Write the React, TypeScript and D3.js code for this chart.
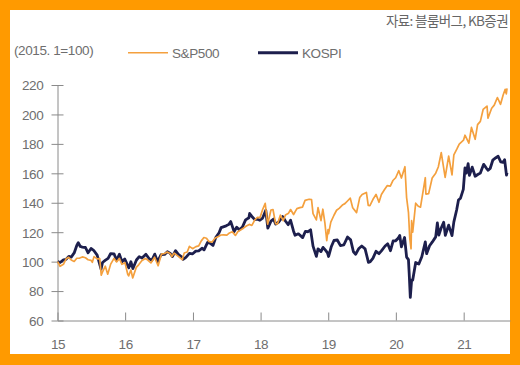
import React, { useEffect, useRef } from "react";
import * as d3 from "d3";

const spDates = [
  "2015-01-02","2015-01-15","2015-02-02","2015-02-17","2015-03-02","2015-03-16","2015-04-01","2015-04-15","2015-05-01","2015-05-15","2015-06-01","2015-06-15","2015-07-01","2015-07-08","2015-07-17","2015-08-03","2015-08-17","2015-08-25","2015-09-01","2015-09-16","2015-09-29","2015-10-15","2015-11-02","2015-11-16","2015-12-01","2015-12-14","2015-12-31",
  "2016-01-15","2016-01-20","2016-02-01","2016-02-11","2016-03-01","2016-03-15","2016-04-01","2016-04-20","2016-05-02","2016-05-19","2016-06-08","2016-06-27","2016-07-15","2016-08-01","2016-08-15","2016-09-01","2016-09-09","2016-09-22","2016-10-14","2016-11-04","2016-11-15","2016-12-01","2016-12-13","2016-12-30",
  "2017-01-17","2017-02-01","2017-02-15","2017-03-01","2017-03-15","2017-03-27","2017-04-13","2017-05-01","2017-05-15","2017-06-01","2017-06-15","2017-07-03","2017-07-17","2017-08-01","2017-08-18","2017-09-01","2017-09-15","2017-10-02","2017-10-16","2017-11-01","2017-11-15","2017-12-01","2017-12-15","2017-12-29",
  "2018-01-12","2018-01-26","2018-02-08","2018-02-26","2018-03-09","2018-03-23","2018-04-02","2018-04-18","2018-05-03","2018-05-15","2018-06-01","2018-06-12","2018-06-28","2018-07-16","2018-08-01","2018-08-15","2018-08-29","2018-09-20","2018-10-03","2018-10-11","2018-10-29","2018-11-07","2018-11-23","2018-12-03","2018-12-14","2018-12-24","2018-12-31",
  "2019-01-03","2019-01-15","2019-02-01","2019-02-15","2019-03-01","2019-03-21","2019-04-01","2019-04-15","2019-04-30","2019-05-13","2019-06-03","2019-06-20","2019-07-03","2019-07-26","2019-08-05","2019-08-14","2019-08-30","2019-09-16","2019-10-02","2019-10-15","2019-11-01","2019-11-15","2019-12-02","2019-12-16","2019-12-31",
  "2020-01-17","2020-01-31","2020-02-19","2020-02-28","2020-03-09","2020-03-16","2020-03-23","2020-03-26","2020-04-01","2020-04-17","2020-05-01","2020-05-13","2020-06-08","2020-06-11","2020-06-26","2020-07-15","2020-08-03","2020-08-17","2020-09-02","2020-09-23","2020-10-12","2020-10-30","2020-11-09","2020-11-25","2020-12-08","2020-12-31",
  "2021-01-08","2021-01-29","2021-02-12","2021-03-04","2021-03-17","2021-04-01","2021-04-16","2021-05-07","2021-05-12","2021-06-01","2021-06-15","2021-07-02","2021-07-19","2021-08-02","2021-08-13","2021-08-19","2021-08-23"
];
const spValues = [
  100,96.8,98.2,102,102.9,101.1,100.1,102.3,102.4,103.2,102.6,101.3,100.9,99.5,103.4,101.9,102.1,90.8,93,96.9,91.5,98.3,102.2,99.8,102.2,98.2,99.3,
  91.4,90.3,94.3,88.9,96.1,98,100.7,102.1,101.1,99.1,103,97.2,105.1,105.5,106.5,105.4,103.4,105.8,103.6,101.3,105.9,106.5,110.4,108.8,
  110.2,110.7,114.1,116.4,115.9,113.8,113.2,116,116.8,118.1,118.2,118,119.5,120.3,117.8,120.4,121.5,122.9,124.2,125.3,124.6,128.4,130,129.9,
  135.4,139.6,125.4,135.1,135.4,125.8,125.5,131.6,127.8,131.7,132.9,135.4,132,136,136.7,137,141.6,142.4,142.1,132.6,128.3,136.7,127.9,135.6,126.3,114.2,121.8,
  119,126.8,131.5,134.9,136.2,138.7,139.4,141.2,143.1,136.6,133.3,143.5,145.6,147,138.2,138,142.2,145.7,140.3,145.6,149,151.6,151.3,155.1,157,
  161.8,156.8,164.5,143.5,133.5,115.9,108.7,127.8,120,139.7,137.6,137,157,145.9,146.2,156.8,160.1,164.3,174,157.3,171.7,158.9,172.5,176.4,179.9,182.5,
  185.9,180.5,191.2,183.1,193.1,195.3,203.4,205.7,197.4,204.2,206.3,211.5,206.9,213.2,217.1,214,217.7
];

const ksDates = [
  "2015-01-02","2015-01-15","2015-02-02","2015-02-16","2015-03-03","2015-03-16","2015-04-01","2015-04-15","2015-04-23","2015-05-04","2015-05-15","2015-06-01","2015-06-15","2015-07-01","2015-07-15","2015-08-03","2015-08-24","2015-09-01","2015-09-15","2015-10-01","2015-10-15","2015-11-02","2015-11-16","2015-12-01","2015-12-15","2015-12-30",
  "2016-01-12","2016-01-21","2016-02-01","2016-02-12","2016-03-02","2016-03-17","2016-04-01","2016-04-22","2016-05-09","2016-05-24","2016-06-09","2016-06-24","2016-07-13","2016-08-01","2016-08-16","2016-09-01","2016-09-12","2016-09-29","2016-10-14","2016-11-04","2016-11-09","2016-11-24","2016-12-13","2016-12-29",
  "2017-01-16","2017-02-01","2017-02-20","2017-03-02","2017-03-21","2017-04-03","2017-04-19","2017-05-04","2017-05-22","2017-06-02","2017-06-29","2017-07-14","2017-07-24","2017-08-11","2017-08-25","2017-09-08","2017-09-25","2017-10-12","2017-10-30","2017-11-03","2017-11-15","2017-12-01","2017-12-15","2017-12-28",
  "2018-01-12","2018-01-29","2018-02-09","2018-02-26","2018-03-12","2018-03-23","2018-04-09","2018-04-30","2018-05-15","2018-05-30","2018-06-12","2018-06-28","2018-07-06","2018-07-24","2018-08-16","2018-08-31","2018-09-14","2018-09-28","2018-10-11","2018-10-29","2018-11-07","2018-11-23","2018-12-04","2018-12-18","2018-12-28",
  "2019-01-03","2019-01-18","2019-02-01","2019-02-19","2019-03-08","2019-03-26","2019-04-15","2019-05-02","2019-05-17","2019-05-29","2019-06-14","2019-07-01","2019-07-19","2019-08-06","2019-08-16","2019-08-30","2019-09-16","2019-10-02","2019-10-15","2019-11-04","2019-11-18","2019-12-03","2019-12-17","2019-12-30",
  "2020-01-13","2020-01-22","2020-01-31","2020-02-17","2020-02-28","2020-03-09","2020-03-13","2020-03-19","2020-03-26","2020-04-01","2020-04-17","2020-05-04","2020-05-20","2020-06-08","2020-06-15","2020-07-01","2020-07-16","2020-08-03","2020-08-12","2020-08-20","2020-09-01","2020-09-15","2020-09-24","2020-10-12","2020-10-30","2020-11-09","2020-11-24","2020-12-04","2020-12-15","2020-12-30",
  "2021-01-08","2021-01-15","2021-01-25","2021-02-01","2021-02-16","2021-03-04","2021-03-18","2021-04-01","2021-04-19","2021-05-04","2021-05-13","2021-05-24","2021-06-07","2021-06-24","2021-07-06","2021-07-20","2021-08-02","2021-08-10","2021-08-20","2021-08-23"
];
const ksValues = [
  100,99.4,101.2,101.5,103.6,103.1,105.9,111,112.8,110.3,109.9,109.6,106,108.9,107.7,104.4,94.9,99.4,100.8,102.2,105.5,105.3,100.9,105,100,101.8,
  98.1,95.8,99.9,95.3,101.1,103.4,102.4,105,102.1,100.8,105.1,100,104.7,104.9,106.7,105.6,103.4,107.4,105,102.9,101.6,102.9,105.6,105.2,
  107.1,107.3,109.1,108,113.1,112.5,111,116.3,119.6,123.1,124.3,125.3,127.2,120.4,123.4,121.6,123.5,128.4,129.8,132.7,130.7,128.5,128.8,128.1,
  129.6,134.9,122.7,127.5,128.9,125.5,126.9,130.6,127.6,125.1,128.1,120.7,117.9,118.9,116.3,120.6,120.3,121.6,110.5,103.6,108.7,106.8,109.7,107.6,105.9,
  103.5,110.3,114.4,114.7,110.9,111.3,116.7,114.8,106.7,105,108.7,110.6,108.7,99.5,100,102.2,107,105.4,107.3,110.6,112.1,107.4,114,114.1,
  115.8,117.7,110,116.4,103.1,101.4,91.9,75.7,87.5,87.5,99.4,98.4,103.3,113.4,105.4,110.8,113.4,116.8,126.3,118,122.7,126.8,117.9,124.8,117.7,127,135.1,141.8,143.1,149.1,
  163.6,160.1,166.5,158.6,164.2,158,159.2,160.2,166.1,163.4,162.1,163.3,168.9,170.6,171.6,167.8,167.4,169.2,158.8,160.4
];

const yTicks = [60, 80, 100, 120, 140, 160, 180, 200, 220];
const xTickYears = ["2015", "2016", "2017", "2018", "2019", "2020", "2021"];
const xTickLabels = ["15", "16", "17", "18", "19", "20", "21"];
const seriesNames = ["S&P500", "KOSPI"];
const unitLabel = "(2015. 1=100)";
const sourceLabel = "자료: 블룸버그, KB증권";

const W = 520;
const H = 365;
const ORANGE = "#F4A03E";
const NAVY = "#1D1F4D";
const AXIS = "#8a8a8a";
const TEXT = "#6e6e6e";
const FONT = "'Liberation Sans', Arial, sans-serif";

export default function App() {
  const ref = useRef<SVGSVGElement>(null);

  useEffect(() => {
    const svg = d3.select(ref.current);
    svg.selectAll("*").remove();
    const parse = d3.timeParse("%Y-%m-%d");

    svg.append("rect").attr("x", 0).attr("y", 0).attr("width", W).attr("height", H).attr("fill", "#FF9A00");
    svg.append("rect").attr("x", 10).attr("y", 10).attr("width", 500).attr("height", 344).attr("fill", "#ffffff");

    const x = d3.scaleTime()
      .domain([parse("2015-01-01")!, parse("2021-09-08")!])
      .range([57.5, 510]);
    const y = d3.scaleLinear().domain([60, 220]).range([320.5, 85]);

    // Y axis
    const gy = svg.append("g").attr("transform", "translate(57.5,0)")
      .call(d3.axisLeft(y).tickValues(yTicks).tickSize(6).tickSizeOuter(0).tickPadding(8));
    gy.select(".domain").attr("stroke", AXIS);
    gy.selectAll(".tick line").attr("stroke", AXIS).attr("x1", 6);
    gy.selectAll(".tick text")
      .attr("fill", TEXT).attr("font-size", 13.5).attr("font-family", FONT)
      .attr("x", -14).attr("dy", "0.36em").attr("letter-spacing", "-0.3");

    // X axis
    const tickDates = xTickYears.map((yy) => parse(yy + "-01-01")!);
    const gx = svg.append("g").attr("transform", "translate(0,320.5)")
      .call(d3.axisBottom(x).tickValues(tickDates).tickSize(-8).tickSizeOuter(0)
        .tickFormat((_d, i) => xTickLabels[i]));
    gx.select(".domain").attr("stroke", AXIS);
    gx.selectAll(".tick line").attr("stroke", AXIS);
    gx.selectAll(".tick text")
      .attr("fill", TEXT).attr("font-size", 13.5).attr("font-family", FONT)
      .attr("y", 28.5).attr("dy", 0).attr("letter-spacing", "-0.5");
    svg.selectAll(".domain").attr("stroke-width", 1);

    // Lines
    const ks = ksDates.map((d, i) => ({ d: parse(d)!, v: ksValues[i] }));
    const sp = spDates.map((d, i) => ({ d: parse(d)!, v: spValues[i] }));
    const line = d3.line<{ d: Date; v: number }>().x((p) => x(p.d)).y((p) => y(p.v)).curve(d3.curveLinear);

    svg.append("path").datum(ks).attr("d", line).attr("fill", "none")
      .attr("stroke", NAVY).attr("stroke-width", 2.8).attr("stroke-linejoin", "round");
    svg.append("path").datum(sp).attr("d", line).attr("fill", "none")
      .attr("stroke", ORANGE).attr("stroke-width", 1.7).attr("stroke-linejoin", "round");

    // Header texts
    svg.append("text").attr("x", 508).attr("y", 26).attr("text-anchor", "end")
      .attr("font-family", "'Noto Sans CJK KR', sans-serif").attr("font-size", 13.5)
      .attr("fill", "#666").attr("letter-spacing", "-0.6").text(sourceLabel);
    svg.append("text").attr("x", 14).attr("y", 54.5)
      .attr("font-family", FONT).attr("font-size", 13.5).attr("fill", TEXT)
      .attr("letter-spacing", "-0.4").text(unitLabel);

    // Legend
    const legend = [
      { name: seriesNames[0], color: ORANGE, w: 1.6, x0: 128 },
      { name: seriesNames[1], color: NAVY, w: 3, x0: 258 },
    ];
    legend.forEach((l) => {
      svg.append("line").attr("x1", l.x0).attr("x2", l.x0 + 40).attr("y1", 52.7).attr("y2", 52.7)
        .attr("stroke", l.color).attr("stroke-width", l.w);
      svg.append("text").attr("x", l.x0 + 44).attr("y", 57.5)
        .attr("font-family", FONT).attr("font-size", 13.5).attr("fill", TEXT)
        .attr("letter-spacing", "-0.4").text(l.name);
    });
  }, []);

  return (
    <div style={{ position: "fixed", left: 0, top: 0 }}>
      <svg ref={ref} width={W} height={H} style={{ display: "block" }} />
    </div>
  );
}
